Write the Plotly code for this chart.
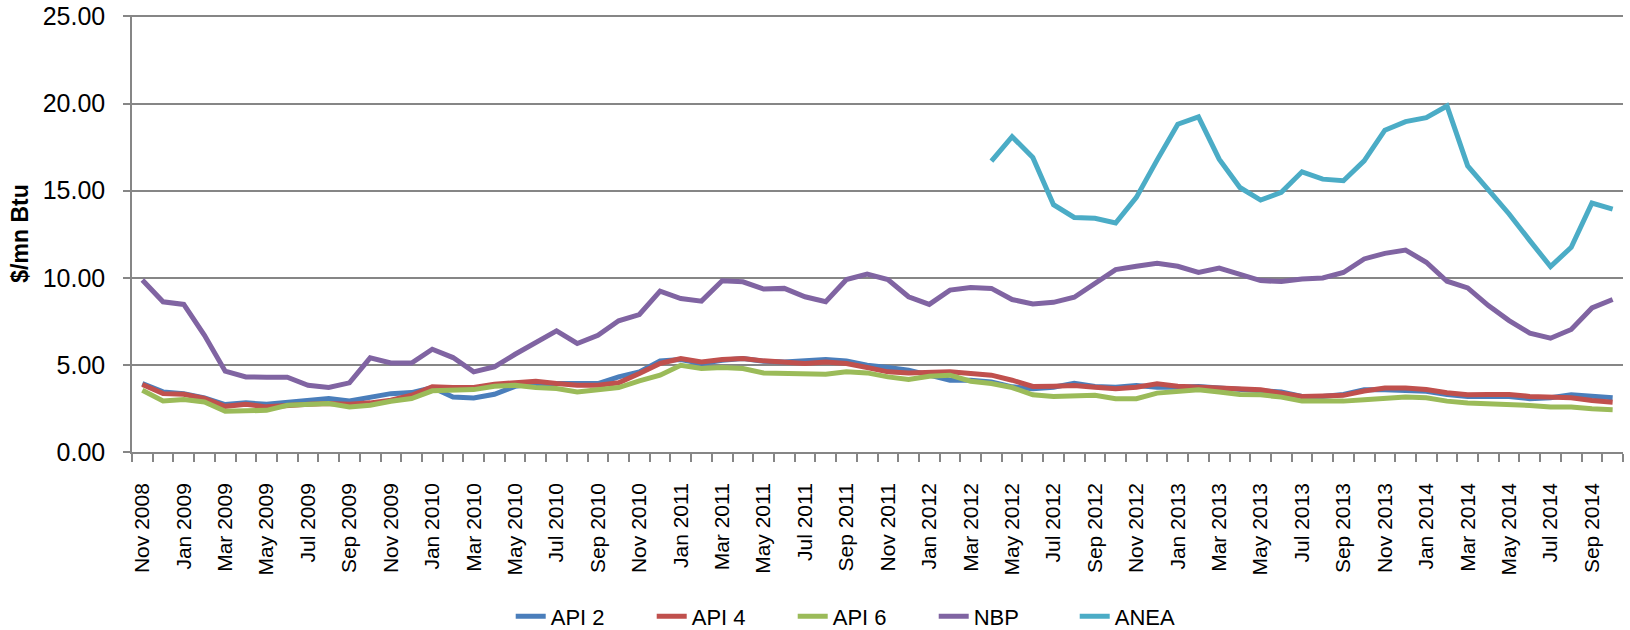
import plotly.graph_objects as go

month_names = ["Jan", "Feb", "Mar", "Apr", "May", "Jun", "Jul", "Aug", "Sep", "Oct", "Nov", "Dec"]
months = []
_m, _y = 10, 2008
for _ in range(72):
    months.append(f"{month_names[_m]} {_y}")
    _m += 1
    if _m == 12:
        _m, _y = 0, _y + 1

api2 = [3.93, 3.45, 3.35, 3.10, 2.72, 2.82, 2.74, 2.87, 2.93, 3.07, 2.93, 3.16, 3.35, 3.41, 3.70,
        3.16, 3.10, 3.31, 3.77, 3.93, 3.93, 3.93, 3.93, 4.31, 4.60, 5.23, 5.31, 5.08, 5.27, 5.36,
        5.21, 5.17, 5.23, 5.31, 5.23, 4.98, 4.85, 4.69, 4.41, 4.12, 4.12, 4.02, 3.74, 3.63, 3.72,
        3.95, 3.76, 3.72, 3.82, 3.72, 3.72, 3.76, 3.67, 3.57, 3.53, 3.44, 3.19, 3.19, 3.30, 3.57,
        3.57, 3.53, 3.48, 3.30, 3.19, 3.19, 3.19, 3.06, 3.11, 3.28, 3.19, 3.11]
api4 = [3.87, 3.35, 3.31, 3.07, 2.62, 2.74, 2.59, 2.68, 2.74, 2.78, 2.74, 2.82, 2.97, 3.26, 3.75,
        3.70, 3.70, 3.89, 3.98, 4.06, 3.93, 3.83, 3.83, 3.97, 4.50, 5.08, 5.36, 5.17, 5.31, 5.36,
        5.23, 5.15, 5.08, 5.17, 5.08, 4.85, 4.60, 4.54, 4.60, 4.60, 4.50, 4.41, 4.12, 3.76, 3.78,
        3.82, 3.72, 3.63, 3.72, 3.92, 3.78, 3.72, 3.67, 3.59, 3.57, 3.38, 3.19, 3.21, 3.25, 3.50,
        3.67, 3.67, 3.59, 3.40, 3.28, 3.30, 3.30, 3.19, 3.15, 3.11, 2.96, 2.86]
api6 = [3.54, 2.93, 3.01, 2.87, 2.34, 2.34, 2.39, 2.68, 2.74, 2.78, 2.59, 2.68, 2.91, 3.07, 3.51,
        3.55, 3.58, 3.77, 3.83, 3.70, 3.64, 3.45, 3.54, 3.70, 4.08, 4.41, 4.98, 4.79, 4.85, 4.79,
        4.54, 4.50, 4.50, 4.46, 4.60, 4.54, 4.31, 4.16, 4.35, 4.41, 4.06, 3.93, 3.70, 3.28, 3.19,
        3.25, 3.25, 3.06, 3.06, 3.38, 3.44, 3.57, 3.44, 3.30, 3.28, 3.15, 2.92, 2.90, 2.92, 3.00,
        3.11, 3.15, 3.11, 2.92, 2.81, 2.77, 2.77, 2.67, 2.58, 2.58, 2.48, 2.43]
nbp = [9.87, 8.62, 8.47, 6.70, 4.64, 4.31, 4.29, 4.29, 3.83, 3.70, 3.97, 5.40, 5.11, 5.11, 5.90,
       5.42, 4.60, 4.89, 5.61, 6.32, 6.95, 6.23, 6.70, 7.53, 7.89, 9.23, 8.81, 8.66, 9.83, 9.77,
       9.35, 9.39, 8.91, 8.62, 9.90, 10.21, 9.90, 8.91, 8.47, 9.29, 9.44, 9.39, 8.75, 8.50, 8.59,
       8.88, 9.64, 10.47, 10.66, 10.83, 10.66, 10.31, 10.56, 10.22, 9.84, 9.78, 9.93, 9.99, 10.30,
       11.08, 11.40, 11.59, 10.89, 9.80, 9.42, 8.40, 7.54, 6.82, 6.53, 7.03, 8.27, 8.75]
anea = [None] * 41 + [16.70, 18.10, 16.90, 14.19, 13.46, 13.41, 13.14, 14.61, 16.75, 18.81, 19.23,
                      16.81, 15.18, 14.46, 14.90, 16.08, 15.66, 15.57, 16.71, 18.47, 18.96, 19.19,
                      19.86, 16.42, 15.05, 13.66, 12.13, 10.64, 11.75, 14.29, 13.94]

series = [("API 2", api2, "#4A7EBB"), ("API 4", api4, "#C0504D"), ("API 6", api6, "#9BBB59"),
          ("NBP", nbp, "#8064A2"), ("ANEA", anea, "#4BACC6")]

xs = list(range(len(months)))
fig = go.Figure()
for name, vals, col in series:
    fig.add_trace(go.Scatter(x=xs, y=vals, name=name, mode="lines",
                             line=dict(color=col, width=5), connectgaps=False))

FONT = "Liberation Sans, Arial, sans-serif"
fig.update_layout(
    width=1630, height=630,
    margin=dict(l=132, r=7, t=15, b=178, autoexpand=False),
    plot_bgcolor="white", paper_bgcolor="white",
    font=dict(family=FONT, size=22, color="#000000"),
    showlegend=True,
    legend=dict(orientation="h", x=0.254, xanchor="left", y=-0.3765, yanchor="middle",
                font=dict(size=22), entrywidth=96, entrywidthmode="pixels",
                itemwidth=30, tracegroupgap=0),
    xaxis=dict(
        range=[-0.5, len(months) - 0.5],
        tickmode="array", tickvals=xs[::2], ticktext=months[::2],
        tickangle=-90, ticks="", showgrid=False, zeroline=False,
        showline=True, linecolor="#868686", linewidth=1.5,
        ticklabelstandoff=21, automargin=False,
        minor=dict(ticks="outside", tickmode="linear", tick0=-0.5, dtick=1, ticklen=8,
                   tickcolor="#868686", tickwidth=1.5, showgrid=False),
        tickfont=dict(size=21),
    ),
    yaxis=dict(
        range=[0, 25.08], tickmode="linear", tick0=0, dtick=5, tickformat=".2f",
        showgrid=True, gridcolor="#868686", gridwidth=1.5, zeroline=False,
        showline=True, linecolor="#868686", linewidth=1.5,
        ticks="outside", ticklen=7, tickcolor="#868686", tickwidth=1.5,
        ticklabelstandoff=13, automargin=False, ticklabeloverflow="allow",
        tickfont=dict(size=25),
        title=dict(text="<b>$/mn Btu</b>", font=dict(size=23), standoff=8),
    ),
)

# remove the default 8px page margin so the figure fills the window exactly
fig.write_html("out.html", config={"displayModeBar": False},
               post_script="document.body.style.margin='0';")
